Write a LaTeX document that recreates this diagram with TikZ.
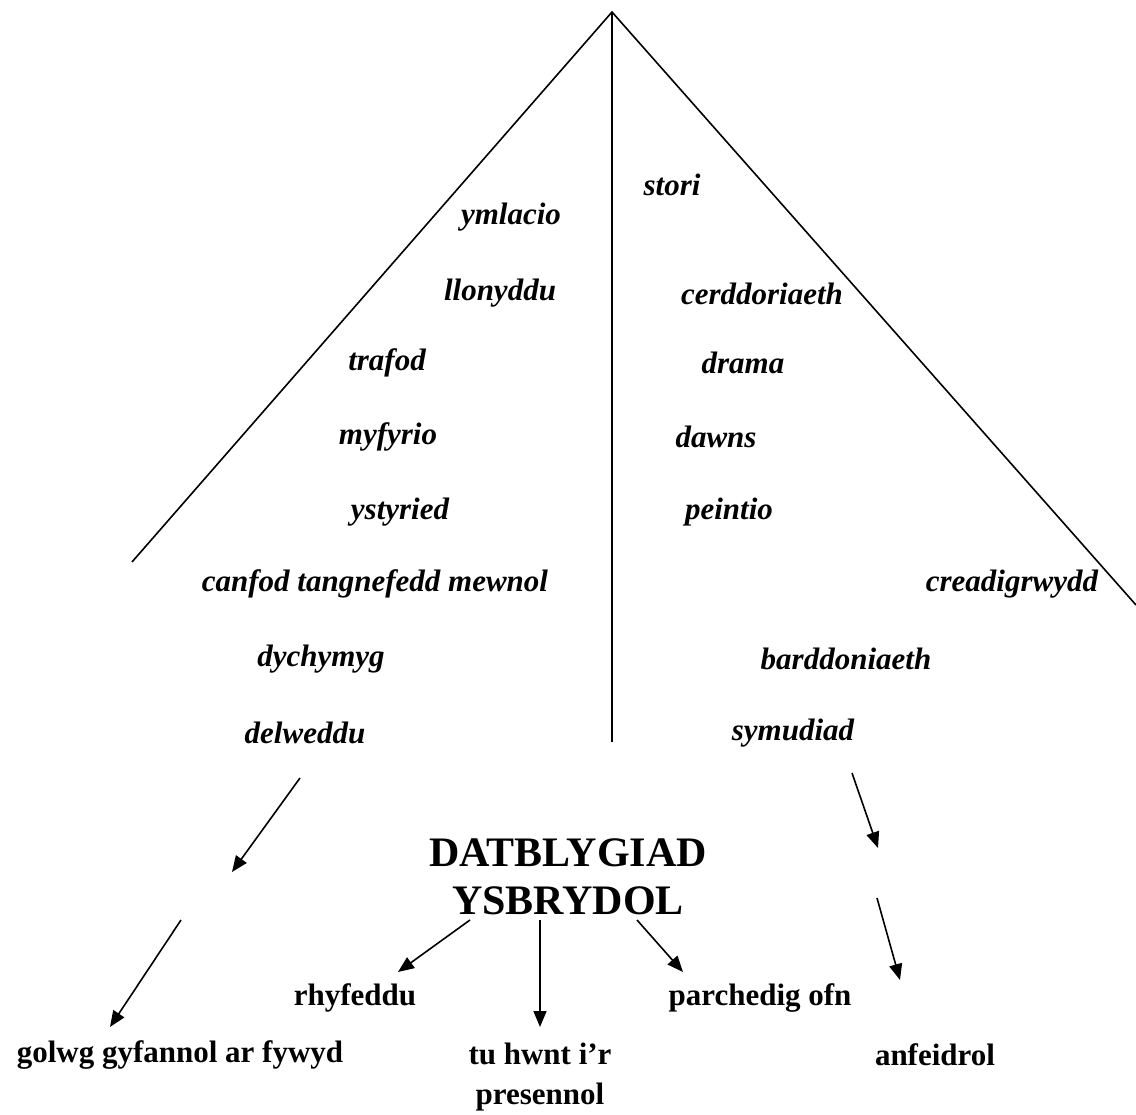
\documentclass[tikz,border=0pt]{standalone}
\usepackage{fontspec}
\setmainfont{Liberation Serif}
\usetikzlibrary{arrows.meta}
\tikzstyle{line} = [line width=1.6pt]
\tikzstyle{arrow} = [line width=1.6pt,-{Triangle[length=16pt,width=13pt]}]
\tikzstyle{item} = [inner sep=0pt, font=\fontsize{31}{36}\selectfont\bfseries\itshape]
\tikzstyle{result} = [inner sep=0pt, font=\fontsize{31}{40}\selectfont\bfseries, align=center]
\tikzstyle{title} = [inner sep=0pt, font=\fontsize{42}{48}\selectfont\bfseries, align=center]

\begin{document}
\begin{tikzpicture}[x=1pt,y=-1pt]
                 \useasboundingbox (0,0) rectangle (1136,1115);
                 % pyramid
                 \coordinate (apex) at (612,12);
                 \coordinate (leftfoot) at (132,562);
                 \coordinate (rightfoot) at (1136,605);
                 \coordinate (midfoot) at (612,742);
                 \draw [line] (leftfoot) -- (apex) -- (rightfoot);
                 \draw [line] (apex) -- (midfoot);
                 % left side
                 \node [item] at (511,217) (ymlacio) {ymlacio};
                 \node [item] at (500,293) (llonyddu) {llonyddu};
                 \node [item] at (387,363) (trafod) {trafod};
                 \node [item] at (388,437) (myfyrio) {myfyrio};
                 \node [item] at (400,512) (ystyried) {ystyried};
                 \node [item] at (375,584) (canfod) {canfod tangnefedd mewnol};
                 \node [item] at (321,659) (dychymyg) {dychymyg};
                 \node [item] at (305,733) (delweddu) {delweddu};
                 % right side
                 \node [item] at (672,185) (stori) {stori};
                 \node [item] at (762,294) (cerddoriaeth) {cerddoriaeth};
                 \node [item] at (743,363) (drama) {drama};
                 \node [item] at (716,437) (dawns) {dawns};
                 \node [item] at (729,512) (peintio) {peintio};
                 \node [item] at (1012,584) (creadigrwydd) {creadigrwydd};
                 \node [item] at (846,659) (barddoniaeth) {barddoniaeth};
                 \node [item] at (793,733) (symudiad) {symudiad};
                 % centre and results
                 \node [title] at (568,877) (datblygiad) {DATBLYGIAD\\YSBRYDOL};
                 \node [result] at (355,998) (rhyfeddu) {rhyfeddu};
                 \node [result] at (760,998) (parchedig) {parchedig ofn};
                 \node [result] at (180,1055) (golwg) {golwg gyfannol ar fywyd};
                 \node [result] at (540,1077) (tuhwnt) {tu hwnt i'r\\presennol};
                 \node [result] at (935,1055) (anfeidrol) {anfeidrol};
                 % arrows
                 \coordinate (l1s) at (300,778); \coordinate (l1e) at (232,872);
                 \coordinate (l2s) at (181,920); \coordinate (l2e) at (110,1027);
                 \coordinate (r1s) at (852,773); \coordinate (r1e) at (878,848);
                 \coordinate (r2s) at (877,898); \coordinate (r2e) at (900,980);
                 \coordinate (c1s) at (470,920); \coordinate (c1e) at (398,972);
                 \coordinate (c2s) at (540,920); \coordinate (c2e) at (540,1027);
                 \coordinate (c3s) at (637,920); \coordinate (c3e) at (683,972);
                 \draw [arrow] (l1s) -- (l1e);
                 \draw [arrow] (l2s) -- (l2e);
                 \draw [arrow] (r1s) -- (r1e);
                 \draw [arrow] (r2s) -- (r2e);
                 \draw [arrow] (c1s) -- (c1e);
                 \draw [arrow] (c2s) -- (c2e);
                 \draw [arrow] (c3s) -- (c3e);
                 \end{tikzpicture}
\end{document}
